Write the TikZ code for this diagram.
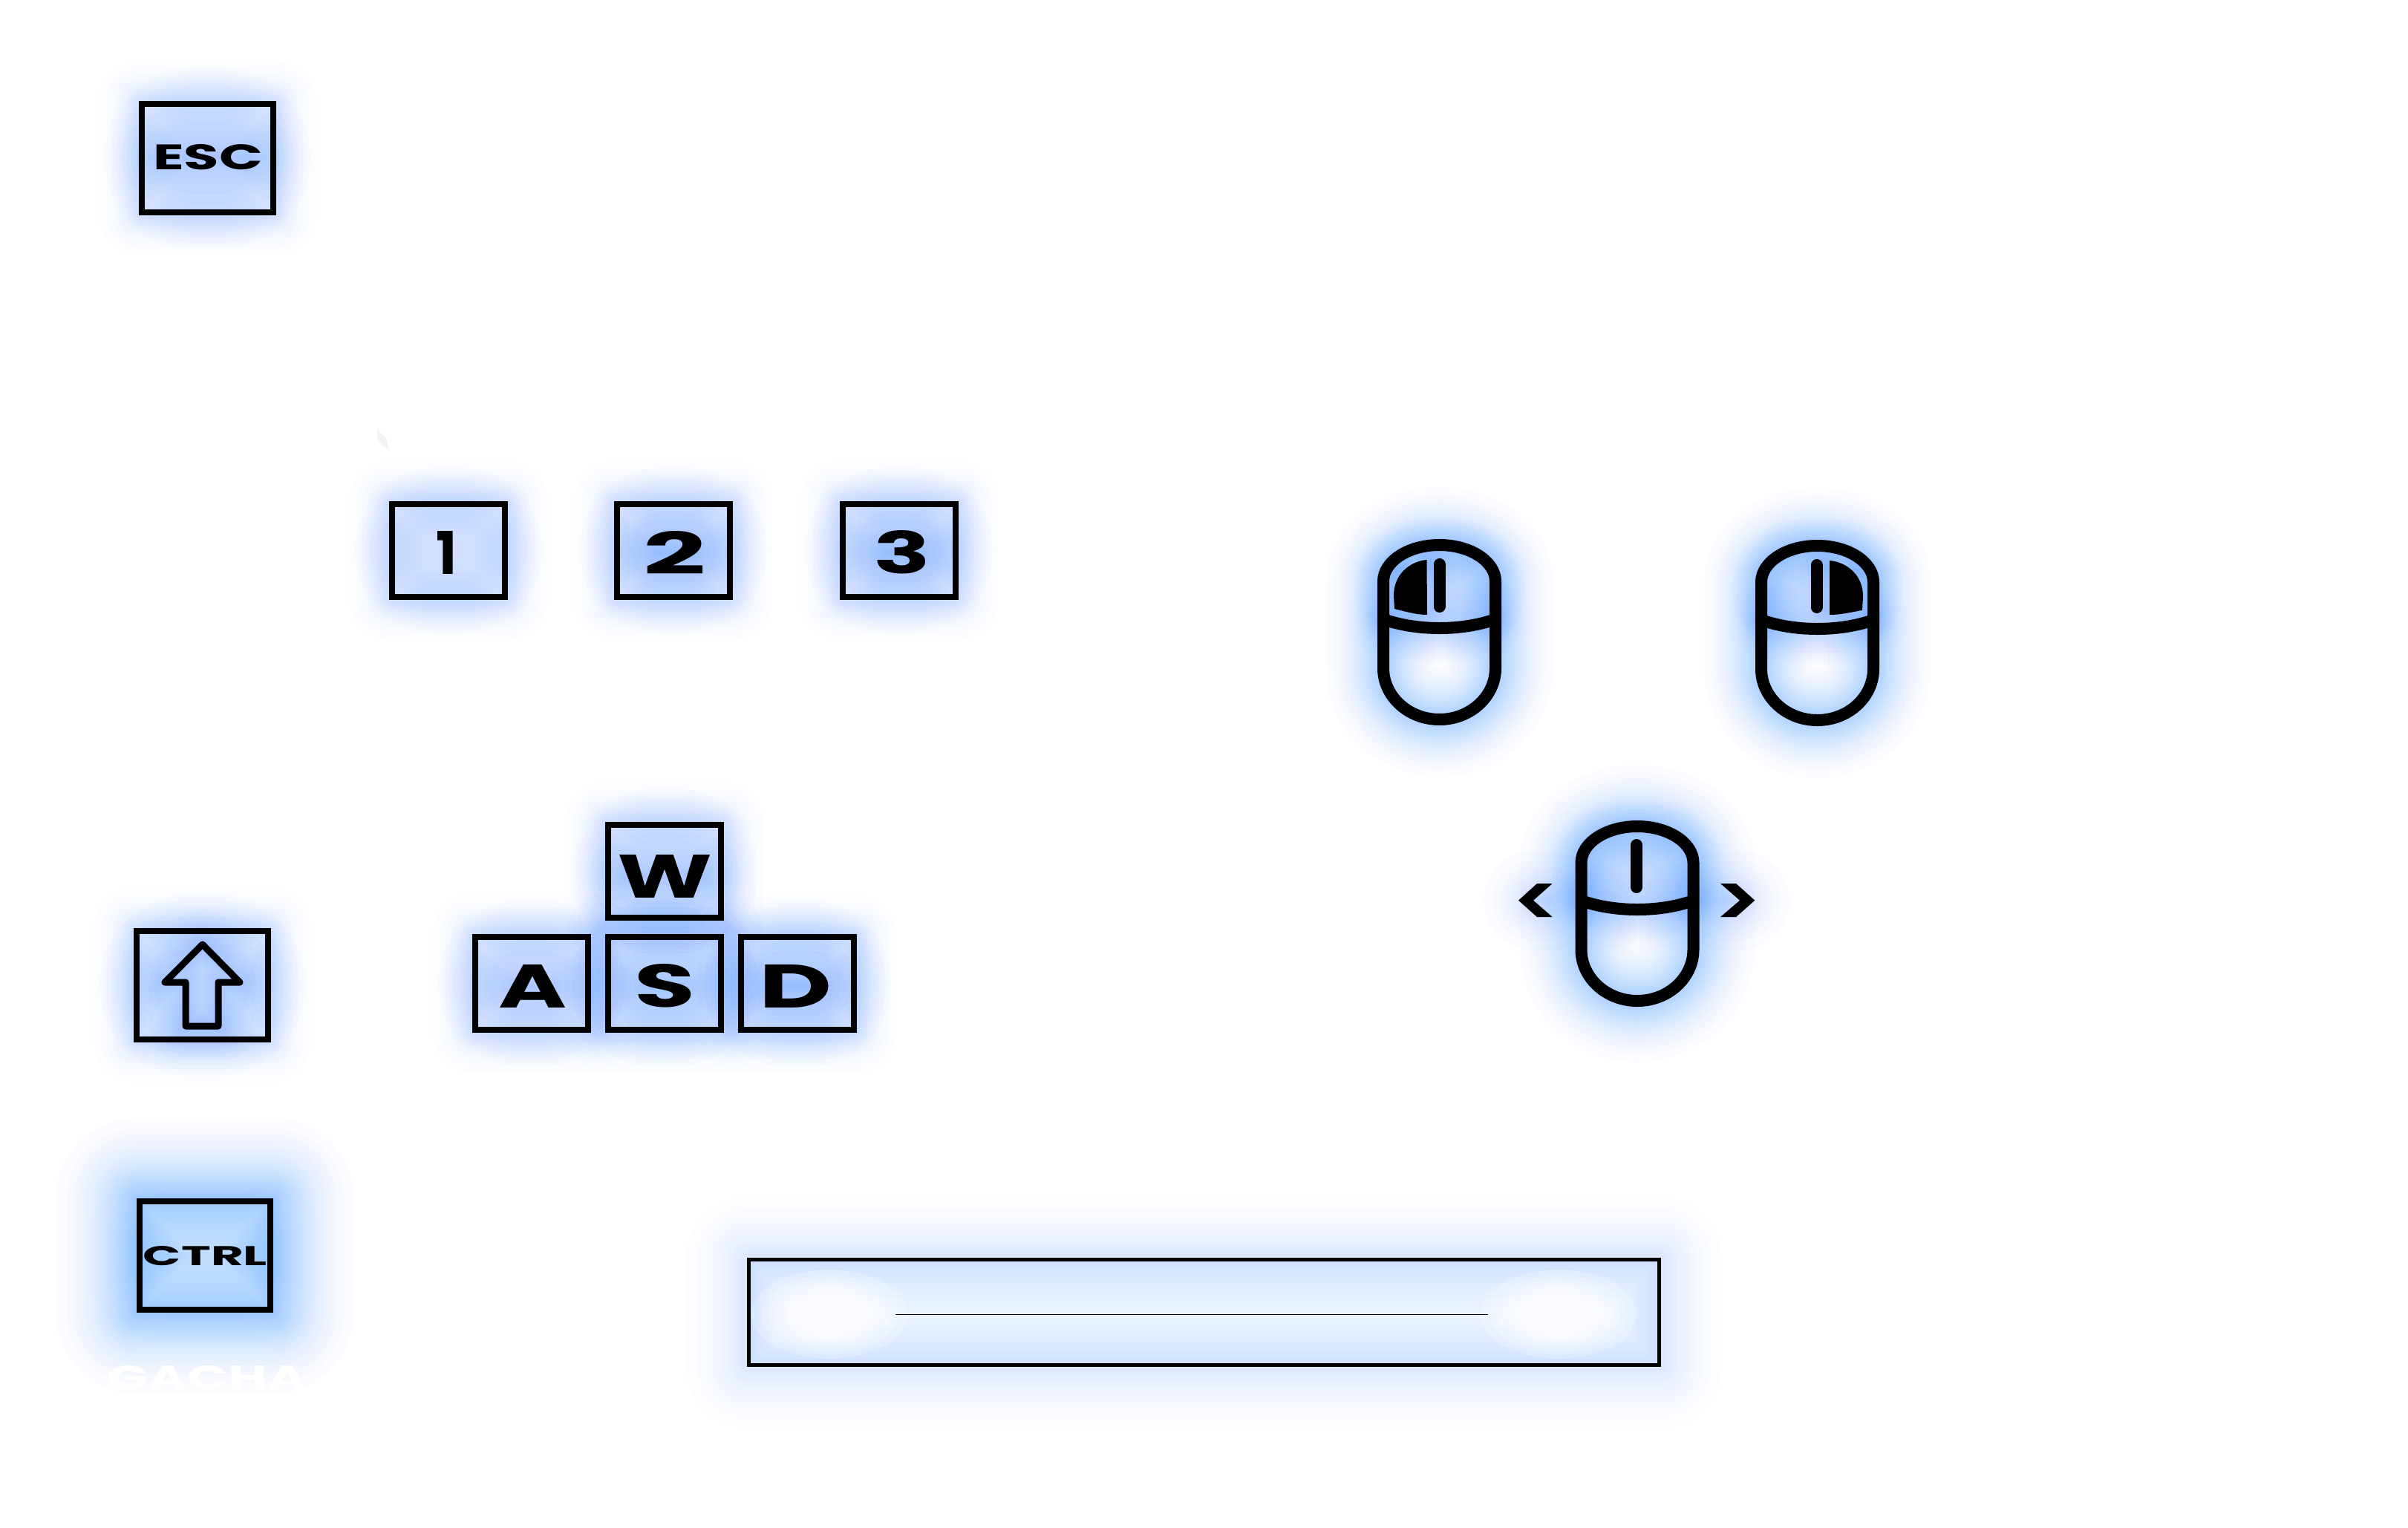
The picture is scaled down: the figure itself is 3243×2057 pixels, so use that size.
\documentclass[tikz,border=0pt]{standalone}
\usepackage{graphicx}
\usepackage{fontspec}
\newfontfamily\keyfont{Poppins}[BoldFont=* Bold]
\definecolor{glowc}{RGB}{0,120,255}
\definecolor{glowlow}{RGB}{0,100,255}
\definecolor{faintgrey}{RGB}{243,243,243}
\tikzset{
  keybox/.style={draw=black,line width=2pt,fill=none,line join=miter},
  iconline/.style={draw=black,line width=4pt,line join=round},
  glyph/.style={inner sep=0pt,outer sep=0pt,text=black,font=\keyfont\bfseries},
  paleglyph/.style={inner sep=0pt,outer sep=0pt,text=white,font=\keyfont\bfseries}
}
% fine glow: #1 path, #2 largest width in px, #3 opacity per 2 layers
\newcommand{\glowlayers}[3]{%
  \pgfmathsetmacro\la{#3*0.5}%
  \foreach \wf in {.856,.75,.677,.618,.567,.521,.48,.441,.405,.371,.339,.308,.278,.25,.223,.196,.171,.146,.122,.099,.076,.053,.032,.011}{%
    \pgfmathsetmacro\lw{\wf*#2*1.2*0.25}%
    \path[draw=glowc,line width=\lw pt,opacity=\la,line join=round,line cap=round] #1;
  }}
% coarse glow for weak halos: same arguments, opacity per layer
\newcommand{\glowcoarse}[3]{%
  \foreach \wf in {.796,.646,.544,.46,.388,.323,.264,.209,.159,.11,.065,.021}{%
    \pgfmathsetmacro\lw{\wf*#2*1.2*0.25}%
    \path[draw=glowlow,line width=\lw pt,opacity=#3,line join=round,line cap=round] #1;
  }}
% flat core with soft rim: #1 path, #2 largest width, #3 opacity per layer
\newcommand{\softbody}[3]{%
  \foreach \wf in {.40,.46,.52,.58,.64,.70,.76,.82,.88,.94,1.0}{%
    \pgfmathsetmacro\lw{\wf*#2*0.25}%
    \path[draw=glowlow,line width=\lw pt,opacity=#3,line cap=round] #1;
  }}
% box x0 y0 x1 y1, edge opacity, body opacity per layer
\newcommand{\keyglow}[6]{%
  \pgfmathsetmacro\hh{(#4-#2)/2}%
  \pgfmathsetmacro\ax{#1+\hh-1}\pgfmathsetmacro\bx{#3-\hh+1}\pgfmathsetmacro\cy{(#2+#4)/2}%
  \pgfmathsetmacro\bw{2*\hh+90}%
  \glowcoarse{(#1,#2) rectangle (#3,#4)}{110}{#5}%
  \softbody{(\ax,\cy) -- (\bx,\cy)}{\bw}{#6}%
}
% #1 style, #2-#5 box in px, #6 name, #7 text
\newcommand{\keylabel}[7][glyph]{%
  \pgfmathsetmacro\kw{(#4-#2)*0.25}%
  \pgfmathsetmacro\kh{(#5-#3)*0.25}%
  \pgfmathsetmacro\kx{(#2+#4)/2}%
  \pgfmathsetmacro\ky{(#3+#5)/2}%
  \node[#1] (#6) at (\kx,\ky) {\resizebox{\kw pt}{\kh pt}{#7}};
}
\newcommand{\mousebody}{(-75.5,49) .. controls (-75.5,22) and (-41.5,0) .. (0,0) .. controls (41.5,0) and (75.5,22) .. (75.5,49) -- (75.5,166) .. controls (75.5,204) and (41.5,235) .. (0,235) .. controls (-41.5,235) and (-75.5,204) .. (-75.5,166) -- cycle}
\newcommand{\mousemid}{(-75.5,100) .. controls (-30,116) and (30,116) .. (75.5,100)}
\newcommand{\mousewheel}{(0,26) -- (0,83)}
\begin{document}
\begin{tikzpicture}[x=0.25pt,y=-0.25pt]
\useasboundingbox (0,0) rectangle (3243,2057);
\fill[white] (0,0) rectangle (3243,2057);

% ---------- glows ----------
% ESC
\keyglow{187}{136}{372}{290}{.012}{.017}
\glowcoarse{(226,212) -- (334,212)}{130}{.014}
% digits
\keyglow{524}{675}{684}{808}{.01}{.014}
\keyglow{827}{675}{987}{808}{.011}{.015}
\glowlayers{(885,744) -- (930,744)}{130}{.026}
\keyglow{1131}{675}{1291}{808}{.011}{.015}
\glowlayers{(1195,744) -- (1235,744)}{130}{.026}
% WASD
\keyglow{815}{1107}{975}{1240}{.012}{.017}
\glowcoarse{(850,1180) -- (940,1180)}{120}{.014}
\keyglow{636}{1258}{796}{1391}{.012}{.015}
\glowcoarse{(690,1328) -- (745,1328)}{120}{.012}
\keyglow{815}{1258}{975}{1391}{.012}{.02}
\glowcoarse{(870,1328) -- (920,1328)}{120}{.014}
\keyglow{994}{1258}{1154}{1391}{.012}{.018}
\glowcoarse{(1040,1328) -- (1100,1328)}{120}{.018}
% Shift
\keyglow{180}{1250}{365}{1404}{.012}{.018}
\glowcoarse{(272.7,1272) -- (225,1323) -- (250,1323) -- (250,1382) -- (294,1382) -- (294,1323) -- (321,1323) -- cycle}{100}{.01}
% CTRL
\glowlayers{(184,1614) rectangle (368,1768)}{210}{.032}
\glowlayers{(235,1691) -- (317,1691)}{240}{.018}
% Mice
\begin{scope}[shift={(1938.5,734)}]
  \glowlayers{\mousebody}{150}{.032}
  \glowcoarse{\mousemid}{100}{.012}
  \softbody{(-20,60) -- (20,60)}{190}{.016}
  \glowcoarse{(-10,30) -- (-10,85) (-50,40) -- (-30,85)}{70}{.014}
\end{scope}
\begin{scope}[shift={(2447.5,735)}]
  \glowlayers{\mousebody}{150}{.032}
  \glowcoarse{\mousemid}{100}{.012}
  \softbody{(-20,60) -- (20,60)}{190}{.016}
  \glowcoarse{(10,30) -- (10,85) (50,40) -- (30,85)}{70}{.014}
\end{scope}
\begin{scope}[shift={(2205,1113)}]
  \glowlayers{\mousebody}{160}{.028}
  \glowcoarse{\mousemid}{110}{.012}
  \softbody{(-20,60) -- (20,60)}{190}{.015}
  \glowcoarse{(-140,100) -- (-120,100)}{140}{.016}
  \glowcoarse{(138,100) -- (118,100)}{140}{.016}
\end{scope}
% Long bar
\glowcoarse{(1006,1694) rectangle (2237,1841)}{170}{.011}
\fill[glowc,opacity=.07] (1006,1694) rectangle (2237,1841);
\foreach \rx/\ry in {105/60,92/52,82/46,74/41,67/37,61/34,56/31,51/28,47/26,43/24,39/22,35/20,32/18,28/16,24/14,20/12}{
  \fill[white,opacity=.22] (1117,1770) ellipse [x radius=\rx,y radius=\ry];
  \fill[white,opacity=.22] (2099,1770) ellipse [x radius=\rx,y radius=\ry];
}

% ---------- faint remains ----------
\fill[faintgrey] (508,578) -- (508,592) -- (517,602) -- (524,606) -- (520,590) -- cycle;
\keylabel[paleglyph]{145}{1840}{413}{1872}{gacha}{GACHA}

% ---------- keys ----------
\draw[keybox] (191,140) rectangle (368,286);
\keylabel{206}{195}{354}{229}{esc}{ESC}
\draw[keybox] (528,679) rectangle (680,804);
\keylabel{587}{715}{615}{773}{one}{1}
\draw[keybox] (831,679) rectangle (983,804);
\keylabel{866.5}{715}{951}{773}{two}{2}
\draw[keybox] (1135,679) rectangle (1287,804);
\keylabel{1176.5}{715}{1253.5}{773}{three}{3}
\draw[keybox] (819,1111) rectangle (971,1236);
\keylabel{831}{1151}{959}{1209}{w}{W}
\draw[keybox] (640,1262) rectangle (792,1387);
\keylabel{671}{1299}{763}{1357}{a}{A}
\draw[keybox] (819,1262) rectangle (971,1387);
\keylabel{854}{1299}{936}{1357}{s}{S}
\draw[keybox] (998,1262) rectangle (1150,1387);
\keylabel{1022}{1299}{1120}{1357}{d}{D}
\draw[keybox] (184,1254) rectangle (361,1400);
\draw[line width=2.25pt,line join=round] (272.7,1272) -- (222,1323) -- (250,1323) -- (250,1382) -- (294,1382) -- (294,1323) -- (323,1323) -- cycle;
\draw[keybox] (188,1618) rectangle (364,1764);
\keylabel{193}{1679}{360}{1705}{ctrl}{CTRL}

% ---------- mice ----------
\begin{scope}[shift={(1938.5,734)}]
  \draw[iconline] \mousebody;
  \draw[iconline] \mousemid;
  \draw[iconline,line cap=round] \mousewheel;
  \fill (-17,20) .. controls (-40,22) and (-62,40) .. (-61.5,69) -- (-60.5,86) .. controls (-45,90) and (-30,94) .. (-16.5,94) -- cycle;
\end{scope}
\begin{scope}[shift={(2447.5,735)}]
  \draw[iconline] \mousebody;
  \draw[iconline] \mousemid;
  \draw[iconline,line cap=round] (-1,26) -- (-1,83);
  \fill (16.5,20) .. controls (40,22) and (62,40) .. (61.5,69) -- (60.5,86.7) .. controls (45,90) and (30,93) .. (16.5,93) -- cycle;
\end{scope}
\begin{scope}[shift={(2205,1113)}]
  \draw[iconline] \mousebody;
  \draw[iconline] \mousemid;
  \draw[iconline,line cap=round] (-1,25) -- (-1,82);
  \fill (-160,99.7) -- (-135,77) -- (-114.3,77) -- (-140,99.7) -- (-114.3,122) -- (-135,122) -- cycle;
  \fill (158.3,99.7) -- (133,77) -- (112,77) -- (138,99.7) -- (112,122) -- (133,122) -- cycle;
\end{scope}

% ---------- long bar ----------
\draw[line width=1.25pt] (1008.5,1696.5) rectangle (2234.5,1838.5);
\draw[line width=.25pt] (1206,1770) -- (2004,1770);
\end{tikzpicture}
\end{document}
